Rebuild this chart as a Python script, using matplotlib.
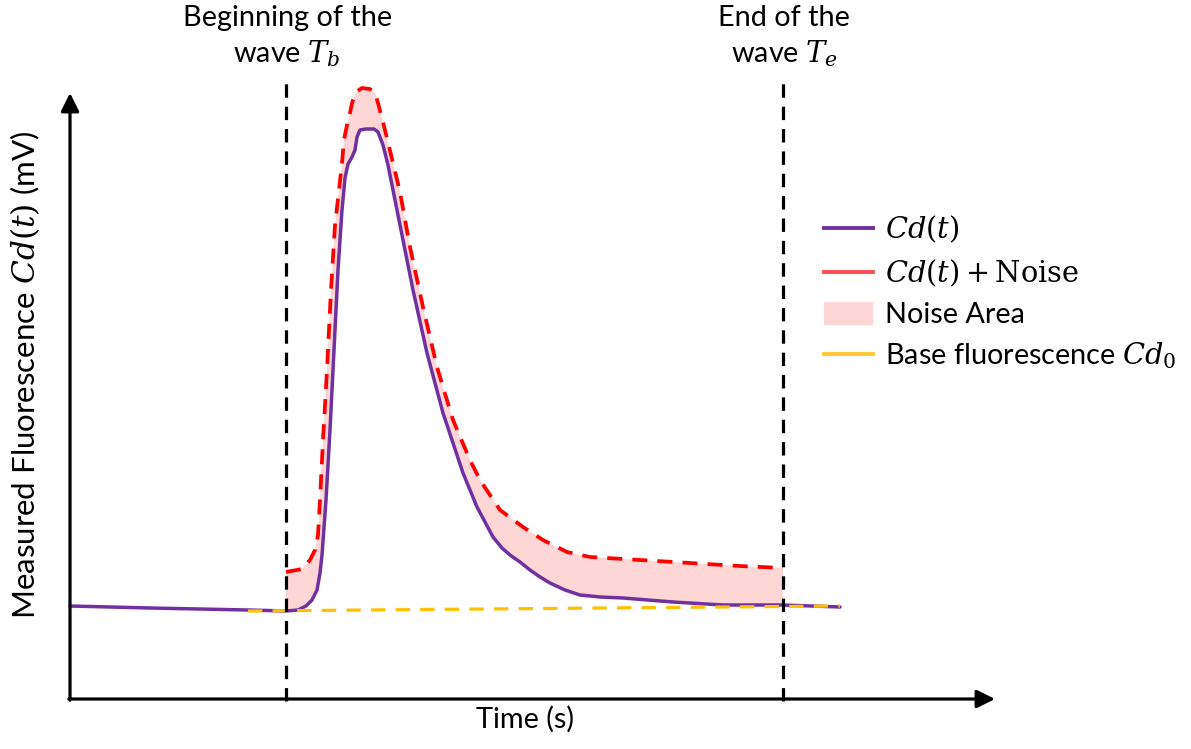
import matplotlib
matplotlib.use("Agg")
import matplotlib.pyplot as plt
from matplotlib.lines import Line2D
from matplotlib.patches import Patch

plt.rcParams['font.family'] = ['Lato', 'DejaVu Sans']
plt.rcParams['mathtext.fontset'] = 'dejavuserif'

# ---- data (arbitrary units) ----
cd_time = [0, 80, 178, 216, 228, 236, 242, 247, 250, 252, 256, 260, 264, 268, 272, 275, 278,
           282, 285, 287, 290, 296, 304, 308, 313, 318, 323, 330, 343, 357, 373, 393,
           407, 423, 432, 440, 450, 460, 470, 480, 495, 510, 530, 553, 603, 653, 713, 770]
cd_value = [93, 91, 89, 88, 89, 93, 99, 109, 126, 144, 199, 269, 349, 429, 489, 521, 535,
            542, 549, 562, 569, 570, 570, 567, 554, 534, 509, 474, 409, 346, 286, 226,
            192, 162, 151, 144, 137, 129, 122, 116, 109, 104, 102, 101, 97, 94, 94, 92]

noise_time = [216, 232, 240, 245, 248, 250, 253, 257, 261, 265, 269, 272, 274, 277, 280,
              282, 286, 292, 300, 305, 308, 315, 323, 330, 340, 353, 367, 383, 400, 410,
              430, 453, 473, 497, 520, 570, 620, 670, 713]
noise_value = [127, 130, 139, 149, 164, 199, 259, 329, 409, 474, 509, 536, 559, 574, 586,
               596, 607, 611, 610, 606, 596, 569, 536, 507, 452, 392, 332, 279, 239, 219,
               189, 172, 159, 147, 142, 139, 136, 133, 131]

base_time = [178, 770]
base_value = [88, 93]

t_begin = 216
t_end = 713

labels = ["$Cd(t)$", "$Cd(t) + \\mathrm{Noise}$", "Noise Area", "Base fluorescence $Cd_0$"]

PURPLE = '#7030A0'
RED = '#FF0000'
PINK = '#FFD6D6'
YELLOW = '#FFC000'

fig = plt.figure(figsize=(11.91, 7.49), dpi=100)
ax = fig.add_axes([0, 0, 1, 1])
ax.set_xlim(-70, 1121)
ax.set_ylim(-50, 699)
ax.axis('off')

# noise area polygon between noisy curve and Cd(t) within [t_begin, t_end]
cd_in = [(t, v) for t, v in zip(cd_time, cd_value) if t_begin <= t <= t_end]
poly_t = list(noise_time) + [t for t, _ in reversed(cd_in)]
poly_v = list(noise_value) + [v for _, v in reversed(cd_in)]
ax.fill(poly_t, poly_v, color=PINK, lw=0, zorder=1)

ax.plot(cd_time, cd_value, color=PURPLE, lw=2.5, solid_capstyle='round',
        solid_joinstyle='round', zorder=3)
ax.plot(base_time, base_value, color=YELLOW, lw=2.3, linestyle=(0, (4.5, 3.2)), zorder=4)
ax.plot(noise_time, noise_value, color=RED, lw=2.7, linestyle=(0, (4.0, 2.7)), zorder=4)

for tv in (t_begin, t_end):
    ax.plot([tv, tv], [-2, 621], color='black', lw=2.3, linestyle=(0, (4.2, 2.8)), zorder=5)

# axes arrows
arrow = dict(arrowstyle='-|>,head_length=0.5,head_width=0.25', lw=2.3, color='black',
             mutation_scale=22, shrinkA=0, shrinkB=0)
ax.annotate('', xy=(925, 0), xytext=(-1.2, 0), arrowprops=arrow, zorder=6)
ax.annotate('', xy=(0, 606), xytext=(0, -1.2), arrowprops=arrow, zorder=6)

FS = 20.8
W, H = 1191, 749
def ftext(x, y, s, **kw):
    fig.text(x / W, 1 - y / H, s, fontsize=FS, **kw)

ftext(288, 26, "Beginning of the", ha='center', va='baseline')
ftext(287, 62, "wave $T_b$", ha='center', va='baseline')
ftext(784, 26, "End of the", ha='center', va='baseline')
ftext(784, 62, "wave $T_e$", ha='center', va='baseline')
ftext(525, 728, "Time (s)", ha='center', va='baseline')
fig.text(25 / W, 1 - 375 / H, "Measured Fluorescence $Cd(t)$ (mV)", fontsize=22.5,
         rotation=90, ha='center', va='center')

handles = [Line2D([], [], color=PURPLE, lw=2.8),
           Line2D([], [], color='#FF4D4D', lw=2.8),
           Patch(facecolor=PINK, edgecolor='none'),
           Line2D([], [], color='#FFC833', lw=2.8)]
leg = ax.legend(handles, labels, loc='upper left', bbox_to_anchor=(824 / W, 1 - 214 / H),
                bbox_transform=fig.transFigure, frameon=False, fontsize=FS,
                handlelength=1.7, handletextpad=0.4, labelspacing=0.43,
                borderpad=0, borderaxespad=0, handleheight=0.85)

fig.savefig('out.png', dpi=100)
